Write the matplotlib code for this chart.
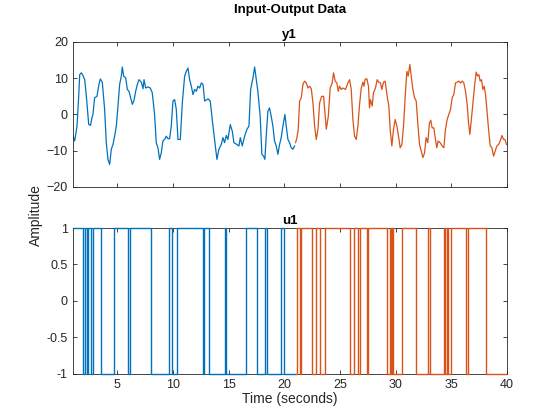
import numpy as np
import matplotlib
matplotlib.use("Agg")
import matplotlib.pyplot as plt

plt.rcParams['font.family'] = ['Liberation Sans', 'DejaVu Sans']

# y1, first experiment (blue)
t_y_blue = [1.02, 1.17, 1.38, 1.53, 1.62, 1.77, 1.92, 2.07, 2.22, 2.43, 2.60, 2.72, 2.81, 2.96,
            3.17, 3.35, 3.47, 3.65, 3.86, 4.01, 4.16, 4.31, 4.46, 4.61, 4.76, 4.91, 5.06, 5.21,
            5.36, 5.45, 5.57, 5.75, 5.90, 6.05, 6.20, 6.35, 6.50, 6.65, 6.80, 6.95, 7.16, 7.31,
            7.40, 7.55, 7.75, 7.96, 8.14, 8.35, 8.50, 8.65, 8.80, 8.95, 9.10, 9.25, 9.40, 9.55,
            9.70, 9.85, 10.00, 10.15, 10.30, 10.45, 10.66, 10.84, 11.05, 11.20, 11.35, 11.50,
            11.65, 11.80, 11.95, 12.10, 12.25, 12.40, 12.55, 12.70, 12.85, 13.15, 13.35, 13.53,
            13.74, 13.95, 14.13, 14.34, 14.49, 14.64, 14.79, 14.94, 15.15, 15.33, 15.48, 15.75,
            15.93, 16.05, 16.23, 16.44, 16.65, 16.83, 16.98, 17.19, 17.34, 17.49, 17.63, 17.84,
            17.99, 18.14, 18.26, 18.38, 18.53, 18.68, 18.83, 18.98, 19.13, 19.28, 19.43, 19.58,
            19.73, 19.88, 20.06, 20.18, 20.33, 20.48, 20.63, 20.78, 20.93]
y_blue = [-6.0, -7.3, -3.2, 5.0, 11.0, 11.5, 10.7, 9.6, 5.0, -2.8, -3.0, -0.9, 0.0, 4.6,
          5.0, 8.3, 9.8, 8.9, 1.4, -7.8, -12.4, -13.8, -9.6, -8.3, -6.0, -3.2, 2.3, 8.3,
          10.6, 13.1, 10.6, 10.1, 6.9, 6.4, 4.6, 2.8, 3.9, 6.4, 8.3, 9.6, 8.9, 7.1,
          9.6, 7.3, 7.6, 7.3, 6.0, 0.0, -7.8, -9.2, -12.4, -10.6, -7.3, -6.9, -6.0, -6.7,
          -6.7, -3.2, 3.7, 4.1, 1.4, -6.9, -6.9, 3.2, 10.6, 11.9, 12.8, 9.6,
          7.8, 5.5, 6.9, 6.4, 7.8, 7.3, 8.7, 8.3, 3.7, 4.3, 3.7, -1.4,
          -6.9, -12.4, -9.6, -8.3, -6.4, -7.8, -5.8, -6.9, -2.8, -4.6, -7.8, -8.3,
          -8.7, -6.4, -8.7, -6.0, -4.1, -3.2, 6.9, 10.1, 13.1, 9.6, 6.4, -0.5,
          -11.0, -11.5, -12.4, -6.0, 0.9, 1.8, -0.5, -3.2, -7.3, -8.7, -11.0, -8.3,
          -6.4, -3.2, 0.0, -3.2, -6.9, -7.8, -9.2, -9.6, -8.7]

# y1, second experiment (orange)
t_y_orange = [21.02, 21.14, 21.26, 21.38, 21.53, 21.68, 21.83, 21.98, 22.13, 22.28, 22.43, 22.58,
              22.73, 22.88, 23.03, 23.18, 23.36, 23.54, 23.66, 23.78, 23.96, 24.13, 24.31, 24.43,
              24.58, 24.73, 24.85, 24.97, 25.12, 25.27, 25.51, 25.72, 25.87, 26.02, 26.17, 26.32,
              26.47, 26.62, 26.77, 26.92, 27.07, 27.16, 27.28, 27.43, 27.57, 27.66, 27.75, 27.90,
              28.02, 28.20, 28.35, 28.50, 28.65, 28.77, 28.92, 29.07, 29.25, 29.40, 29.52, 29.67,
              29.82, 29.97, 30.12, 30.27, 30.42, 30.57, 30.72, 30.87, 31.02, 31.14, 31.29, 31.41,
              31.56, 31.71, 31.86, 32.01, 32.16, 32.31, 32.46, 32.61, 32.75, 32.90, 33.05, 33.17,
              33.29, 33.44, 33.59, 33.71, 33.83, 34.01, 34.19, 34.34, 34.49, 34.64, 34.79, 34.94,
              35.09, 35.24, 35.39, 35.54, 35.69, 35.84, 35.99, 36.14, 36.29, 36.44, 36.56, 36.68,
              36.83, 37.01, 37.13, 37.25, 37.37, 37.49, 37.61, 37.73, 37.85, 37.97, 38.09, 38.21,
              38.36, 38.51, 38.66, 38.81, 38.96, 39.11, 39.26, 39.41, 39.56, 39.71, 39.83, 39.97]
y_orange = [-7.8, -6.4, -4.1, 3.7, 4.6, 8.3, 9.2, 8.7, 7.3, 7.8, 7.1, 3.2,
            -3.2, -6.9, -4.1, 3.2, 5.0, 5.0, 0.5, -4.1, -0.5, 7.3, 8.7, 11.5,
            9.2, 8.7, 6.4, 7.8, 6.9, 7.3, 6.9, 8.7, 9.6, 6.9, -1.4, -6.0,
            -6.9, -3.2, 2.8, 7.3, 8.9, 7.8, 9.8, 9.8, 7.8, 1.8, 4.1, 2.3,
            6.0, 7.3, 9.6, 8.9, 8.7, 6.9, 8.9, 9.2, 5.0, 2.3, -4.1, -8.7,
            -4.1, -1.4, -3.2, -6.0, -9.2, -8.3, -3.2, 5.0, 11.9, 10.6, 13.8, 10.6,
            6.9, 4.6, 3.7, -2.8, -8.3, -10.1, -11.9, -10.6, -6.4, -7.8, -2.3, -1.6,
            -3.7, -3.7, -6.9, -9.2, -7.3, -7.8, -8.7, -9.2, -4.1, -1.4, 0.0, 1.4,
            4.6, 5.5, 8.7, 8.9, 9.2, 8.7, 9.2, 8.7, 6.4, 2.8, -2.3, -5.5,
            -0.9, 5.0, 8.7, 11.7, 10.6, 11.0, 9.2, 9.6, 6.9, 7.8, 5.5, 1.4,
            -4.1, -8.7, -9.2, -11.5, -10.1, -8.7, -8.3, -7.3, -5.8, -6.9, -6.9, -8.3]

# u1 switching instants and levels
u_edges_blue = [1.0, 1.9, 2.1, 2.3, 2.4, 2.6, 2.8, 3.5, 4.7, 6.0, 6.1, 8.0, 9.6, 9.9, 10.4,
                12.7, 12.8, 13.2, 14.7, 14.8, 16.55, 17.55, 18.25, 18.45, 19.75, 19.95, 21.0]
u_levels_blue = [1, -1, 1, -1, 1, -1, 1, -1, 1, -1, 1, -1, 1, -1,
                 1, -1, 1, -1, 1, -1, 1, -1, 1, -1, 1, -1]
u_edges_orange = [21.0, 21.15, 21.45, 21.55, 22.45, 22.85, 23.25, 23.65, 25.95, 26.3, 26.65,
                  26.8, 27.4, 27.55, 29.2, 29.5, 29.6, 29.7, 29.8, 30.55, 31.8, 32.9, 33.1,
                  34.35, 34.45, 34.6, 34.7, 34.95, 36.3, 36.55, 38.1, 40.0]
u_levels_orange = [-1, 1, -1, 1, -1, 1, -1, 1, -1, 1, -1, 1, -1, 1, -1, 1,
                   -1, 1, -1, 1, -1, 1, -1, 1, -1, 1, -1, 1, -1, 1, -1]

x_ticks = [5, 10, 15, 20, 25, 30, 35, 40]
y_ticks = [-20, -10, 0, 10, 20]
u_ticks = [-1, -0.5, 0, 0.5, 1]

blue = '#0072BD'
orange = '#D95319'
axcol = '#262626'

fig = plt.figure(figsize=(5.6, 4.2), dpi=100)
ax1 = fig.add_axes([0.130, 0.555, 0.775, 0.345])
ax2 = fig.add_axes([0.130, 0.110, 0.775, 0.347])

ax1.plot(t_y_blue, y_blue, color=blue, lw=0.9)
ax1.plot(t_y_orange, y_orange, color=orange, lw=0.9)
ax2.stairs(u_levels_blue, u_edges_blue, baseline=None, color=blue, lw=1.0,
           clip_on=False, zorder=5)
ax2.stairs(u_levels_orange, u_edges_orange, baseline=None, color=orange, lw=1.0,
           clip_on=False, zorder=5)

for ax in (ax1, ax2):
    ax.set_xlim(1, 40)
    ax.set_xticks(x_ticks)
    ax.tick_params(direction='in', top=True, right=True, length=3, width=0.6,
                   colors=axcol, labelsize=9)
    for s in ax.spines.values():
        s.set_color(axcol)
        s.set_linewidth(0.6)

ax1.set_ylim(-20, 20)
ax1.set_yticks(y_ticks)
ax1.set_xticklabels([])
ax1.set_title('y1', fontsize=9.5, fontweight='bold', color='black', pad=3)

ax2.set_ylim(-1, 1)
ax2.set_yticks(u_ticks)
ax2.set_yticklabels(['-1', '-0.5', '0', '0.5', '1'])
ax2.set_title('u1', fontsize=9.5, fontweight='bold', color='black', pad=3)

fig.text(0.518, 0.976, 'Input-Output Data', ha='center', va='center',
         fontsize=9.5, fontweight='bold')
fig.text(0.064, 0.488, 'Amplitude', ha='center', va='center', rotation=90,
         fontsize=10, color=axcol)
fig.text(0.518, 0.050, 'Time (seconds)', ha='center', va='center',
         fontsize=10, color=axcol)

fig.savefig('out.png', dpi=100)
